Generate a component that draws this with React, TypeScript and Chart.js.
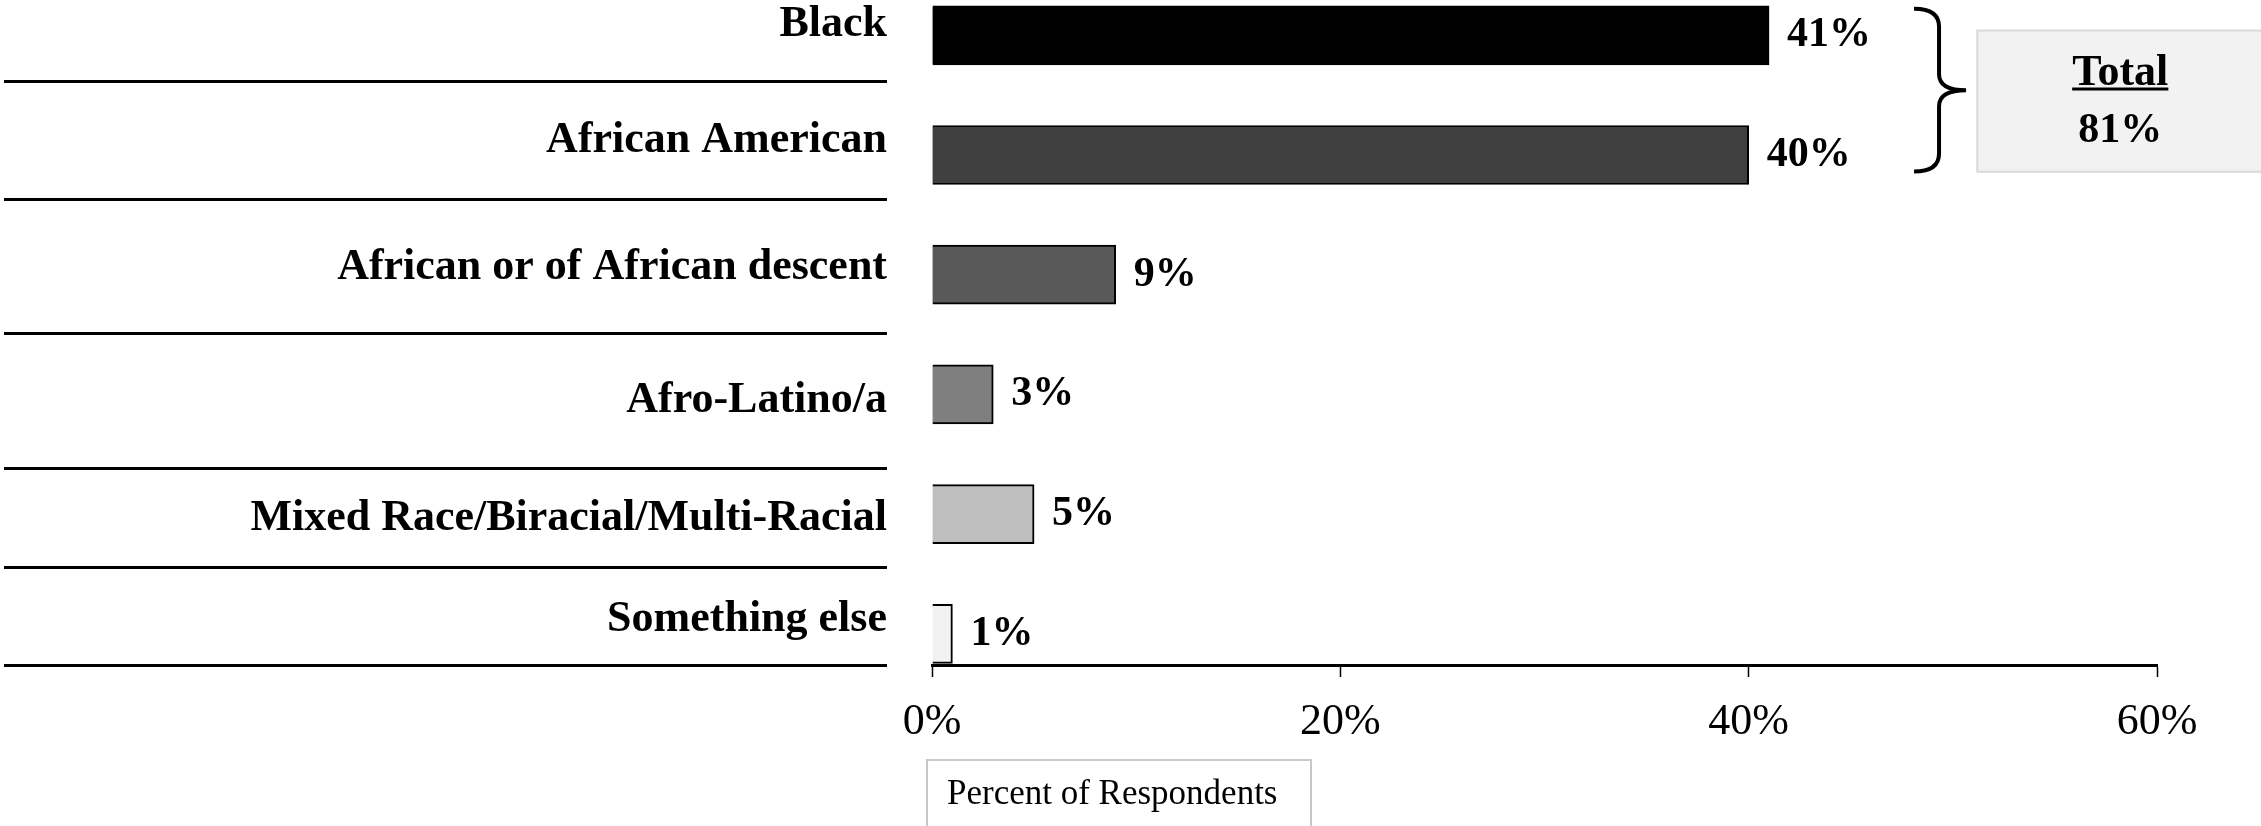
import React, { useEffect, useRef } from 'react';
import { Chart, registerables } from 'chart.js';

Chart.register(...registerables);

// ---- data ----
const CATEGORIES = [
  'Black',
  'African American',
  'African or of African descent',
  'Afro-Latino/a',
  'Mixed Race/Biracial/Multi-Racial',
  'Something else',
];
const VALUES = [41, 40, 9, 3, 5, 1];
const BAR_COLORS = ['#000000', '#404040', '#595959', '#7f7f7f', '#bfbfbf', '#f2f2f2'];
const X_TICKS = [0, 20, 40, 60];
const TOTAL_TITLE = 'Total';
const TOTAL_GROUP = [0, 1]; // categories summed in the "Total" callout
const AXIS_TITLE = 'Percent of Respondents';

const FONT = "'Liberation Serif', 'Times New Roman', serif";

export default function App() {
  const ref = useRef<HTMLCanvasElement | null>(null);

  useEffect(() => {
    const canvas = ref.current;
    if (!canvas) return;

    // layout constants (index units of the category axis)
    const Y_MIN = -0.2949;
    const Y_MAX = 5.2606;
    const LABEL_POS = [-0.09, 0.883, 1.944, 3.055, 4.041, 4.885];
    const SEP_POS = [0.39, 1.368, 2.495, 3.615, 4.45, Y_MAX];
    const N = CATEGORIES.length;

    const overlay = {
      id: 'overlay',
      afterDatasetsDraw(chart: any) {
        const ctx = chart.ctx as CanvasRenderingContext2D;
        const meta = chart.getDatasetMeta(0);
        const xs = chart.scales.x;
        const ys = chart.scales.y;
        ctx.save();
        // value labels
        ctx.fillStyle = '#000';
        ctx.font = `bold 42px ${FONT}`;
        ctx.textAlign = 'left';
        ctx.textBaseline = 'middle';
        meta.data.forEach((el: any, i: number) => {
          ctx.fillText(VALUES[i] + '%', el.x + 18, el.y);
        });

        // brace
        const b0 = meta.data[TOTAL_GROUP[0]] as any;
        const b1 = meta.data[TOTAL_GROUP[1]] as any;
        const top = b0.y - b0.height / 2 + 3;
        const bottom = b1.y + b1.height / 2 - 13;
        const mid = (top + bottom) / 2;
        const x0 = xs.getPixelForValue(48.1);
        const xm = x0 + 25;
        const xt = x0 + 52;
        ctx.strokeStyle = '#000';
        ctx.lineWidth = 4;
        ctx.beginPath();
        ctx.moveTo(x0, top);
        ctx.quadraticCurveTo(xm, top, xm, top + 18);
        ctx.lineTo(xm, mid - 16);
        ctx.quadraticCurveTo(xm, mid, xt, mid);
        ctx.moveTo(xt, mid);
        ctx.quadraticCurveTo(xm, mid, xm, mid + 16);
        ctx.lineTo(xm, bottom - 18);
        ctx.quadraticCurveTo(xm, bottom, x0, bottom);
        ctx.stroke();

        // total box
        const bx0 = xs.getPixelForValue(51.2);
        const bx1 = xs.getPixelForValue(65.2);
        const by0 = ys.getPixelForValue(-0.04);
        const by1 = ys.getPixelForValue(1.14);
        ctx.fillStyle = '#f2f2f2';
        ctx.fillRect(bx0, by0, bx1 - bx0, by1 - by0);
        ctx.strokeStyle = '#d9d9d9';
        ctx.lineWidth = 2;
        ctx.strokeRect(bx0, by0, bx1 - bx0, by1 - by0);
        const cx = (bx0 + bx1) / 2;
        ctx.fillStyle = '#000';
        ctx.textAlign = 'center';
        ctx.textBaseline = 'alphabetic';
        ctx.font = `bold 44px ${FONT}`;
        const ty = by0 + 54;
        ctx.fillText(TOTAL_TITLE, cx, ty);
        const tw = ctx.measureText(TOTAL_TITLE).width;
        ctx.fillRect(cx - tw / 2, ty + 3, tw, 3);
        const total = TOTAL_GROUP.reduce((s, i) => s + VALUES[i], 0);
        ctx.font = `bold 42px ${FONT}`;
        ctx.textBaseline = 'middle';
        ctx.fillText(total + '%', cx, by0 + 101);

        // axis title box
        const ca = chart.chartArea;
        const px0 = xs.getPixelForValue(0) - 5;
        const pw = 384;
        const py0 = ca.bottom + 95;
        ctx.strokeStyle = '#c8c8c8';
        ctx.lineWidth = 2;
        ctx.strokeRect(px0, py0, pw, 120);
        ctx.font = `35px ${FONT}`;
        ctx.textAlign = 'left';
        ctx.textBaseline = 'middle';
        ctx.fillStyle = '#000';
        ctx.fillText(AXIS_TITLE, px0 + 20, py0 + 35);
        ctx.restore();
      },
    };

    const chart = new Chart(canvas, {
      type: 'bar',
      data: {
        datasets: [
          {
            data: VALUES.map((v, i) => ({ x: v, y: i })),
            backgroundColor: BAR_COLORS,
            borderColor: '#000',
            borderWidth: 2,
            barThickness: 59,
            xAxisID: 'x',
            yAxisID: 'y',
          } as any,
        ],
      },
      options: {
        indexAxis: 'y',
        animation: false,
        responsive: false,
        layout: { padding: { left: 0, top: 0, bottom: 0, right: 104 } },
        plugins: {
          legend: { display: false },
          tooltip: { enabled: false },
        },
        scales: {
          x: {
            type: 'linear',
            position: 'bottom',
            min: 0,
            max: 60,
            offset: false,
            afterBuildTicks: (s: any) => {
              s.ticks = X_TICKS.map((v) => ({ value: v }));
            },
            ticks: {
              callback: (v: any) => v + '%',
              font: { family: FONT, size: 44 },
              color: '#000',
              padding: 19,
              maxRotation: 0,
              autoSkip: false,
            },
            grid: {
              offset: false,
              drawOnChartArea: false,
              drawTicks: true,
              tickLength: 12,
              tickColor: '#000',
              tickWidth: 1.5,
            },
            border: { display: true, color: '#000', width: 3 },
            afterFit: (s: any) => {
              s.height = 161;
              s.paddingLeft = 0;
              s.paddingRight = 0;
              s.paddingTop = 0;
              s.paddingBottom = 0;
            },
          },
          y: {
            type: 'linear',
            position: 'left',
            reverse: true,
            offset: false,
            min: Y_MIN,
            max: Y_MAX,
            weight: 1,
            ticks: { display: false },
            grid: { display: false, offset: false },
            border: { display: false },
            afterFit: (s: any) => {
              s.width = 45;
              s.paddingTop = 0;
              s.paddingBottom = 0;
            },
          },
          yl: {
            type: 'linear',
            position: 'left',
            reverse: true,
            offset: false,
            min: Y_MIN,
            max: Y_MAX,
            weight: 2,
            afterBuildTicks: (s: any) => {
              s.ticks = [...LABEL_POS, ...SEP_POS].map((v) => ({ value: v }));
            },
            ticks: {
              callback: (_v: any, i: number) => (i < N ? CATEGORIES[i] : ''),
              font: { family: FONT, size: 44, weight: 'bold' },
              color: '#000',
              padding: -883,
              autoSkip: false,
              crossAlign: 'near',
            },
            grid: {
              display: true,
              offset: false,
              drawOnChartArea: false,
              drawTicks: true,
              tickLength: 883,
              lineWidth: 3,
              tickWidth: 3,
              tickColor: (c: any) => (c.index < N ? 'rgba(0,0,0,0)' : '#000'),
            },
            border: { display: false },
            afterFit: (s: any) => {
              s.width = 887;
              s.paddingTop = 0;
              s.paddingBottom = 0;
              s.paddingLeft = 0;
              s.paddingRight = 0;
            },
          },
        } as any,
      },
      plugins: [overlay],
    });

    return () => chart.destroy();
  }, []);

  return (
    <div style={{ position: 'fixed', left: 0, top: 0, width: 2261, height: 826, background: '#fff' }}>
      <canvas ref={ref} width={2261} height={826} style={{ display: 'block', width: 2261, height: 826 }} />
    </div>
  );
}
